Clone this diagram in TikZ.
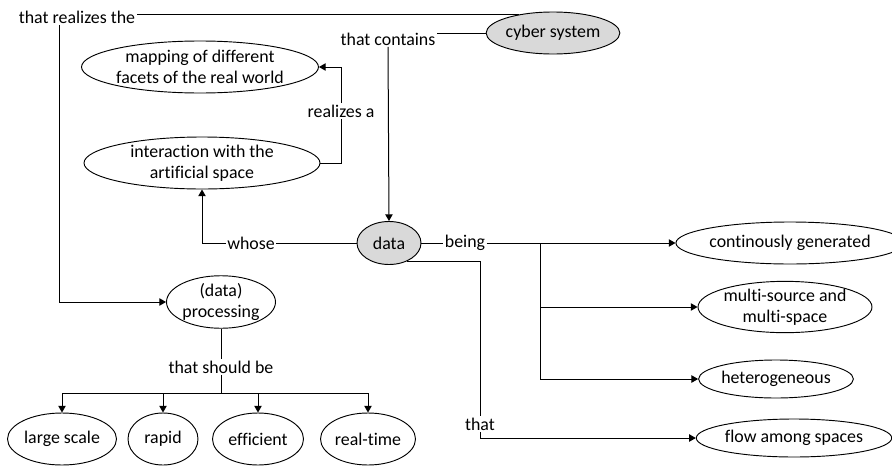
\documentclass[tikz,border=0pt]{standalone}
\usepackage{fontspec}
\setmainfont{Carlito}[Ligatures=NoCommon]
\usetikzlibrary{shapes.geometric,arrows.meta}
\definecolor{nodegray}{HTML}{D9D9D9}
\begin{document}
\begin{tikzpicture}[x=0.75pt,y=-0.75pt,
  every node/.style={font=\fontsize{13.4}{15.75}\selectfont},
  concept/.style={ellipse,draw,line width=0.7pt,inner sep=0pt,align=center},
  keyc/.style={concept,fill=nodegray},
  lbl/.style={inner sep=1pt},
  conn/.style={line width=0.75pt},
  arr/.style={conn,-{Triangle[length=5pt,width=5.5pt]}}]
\useasboundingbox (0,0) rectangle (892,468);

% concepts
\node[keyc,minimum width=94.5pt,minimum height=31.5pt] (cyber) at (553,33) {cyber system};
\node[concept,minimum width=164.25pt,minimum height=39pt] (mapping) at (200,67) {mapping of different\\facets of the real world};
\node[concept,minimum width=177pt,minimum height=39pt] (inter) at (202,163) {interaction with the\\artificial space};
\node[keyc,minimum width=48pt,minimum height=32.25pt] (data) at (389,243) {data};
\node[concept,minimum width=148.5pt,minimum height=31.5pt] (cont) at (790,243) {continously generated};
\node[concept,minimum width=130.5pt,minimum height=33.75pt] (multi) at (785,307) {multi-source and\\multi-space};
\node[concept,minimum width=111pt,minimum height=28.5pt] (het) at (776,379) {heterogeneous};
\node[concept,minimum width=138.75pt,minimum height=28.5pt] (flow) at (794,438) {flow among spaces};
\node[concept,minimum width=81.75pt,minimum height=39pt] (proc) at (221,302) {(data)\\processing};
\node[concept,minimum width=81.75pt,minimum height=39pt] (ls) at (62,439) {large scale};
\node[concept,minimum width=52.5pt,minimum height=39pt] (rapid) at (163,439) {rapid};
\node[concept,minimum width=68.25pt,minimum height=39pt] (eff) at (258,439) {efficient};
\node[concept,minimum width=71.25pt,minimum height=39pt] (rt) at (368,439) {real-time};

% link labels
\node[lbl] (l1) at (77,17) {that realizes the};
\node[lbl] (l2) at (388,39) {that contains};
\node[lbl] (l3) at (341,111) {realizes a};
\node[lbl] (l4) at (251,243) {whose};
\node[lbl] (l5) at (465,243) {being};
\node[lbl] (l6) at (480,424) {that};
\node[lbl] (l7) at (221,367) {that should be};

% helper coordinates
\coordinate (c1) at (59,0);
\coordinate (br) at (540,243);
\coordinate (hub) at (221,393);
\coordinate (c6) at (480,0);

% connectors
\draw[conn] (cyber.151) -- (cyber.151 -| l1.east);
\draw[arr] (l1.south -| c1) |- (proc.west);
\draw[conn] (cyber.west) -- (cyber.west -| l2.east);
\draw[arr] (l2.south) -- (data.north);
\draw[conn] (inter.east) -| (l3.south);
\draw[arr] (l3.north) |- (mapping.east);
\draw[conn] (data.west) -- (l4.east);
\draw[arr] (l4.west) -| (inter.south);
\draw[conn] (data.east) -- (l5.west);
\draw[arr] (l5.east) -- (cont.west);
\draw[arr] (br) |- (multi.west);
\draw[arr] (br) |- (het.west);
\draw[conn] (data.-46) -- (data.-46 -| c6) -- (l6.north);
\draw[arr] (l6.south) |- (flow.west);
\draw[conn] (proc.south) -- (l7.north);
\draw[conn] (l7.south) -- (hub);
\draw[conn] (ls.north |- hub) -- (rt.north |- hub);
\draw[arr] (ls.north |- hub) -- (ls.north);
\draw[arr] (rapid.north |- hub) -- (rapid.north);
\draw[arr] (eff.north |- hub) -- (eff.north);
\draw[arr] (rt.north |- hub) -- (rt.north);
\end{tikzpicture}
\end{document}
